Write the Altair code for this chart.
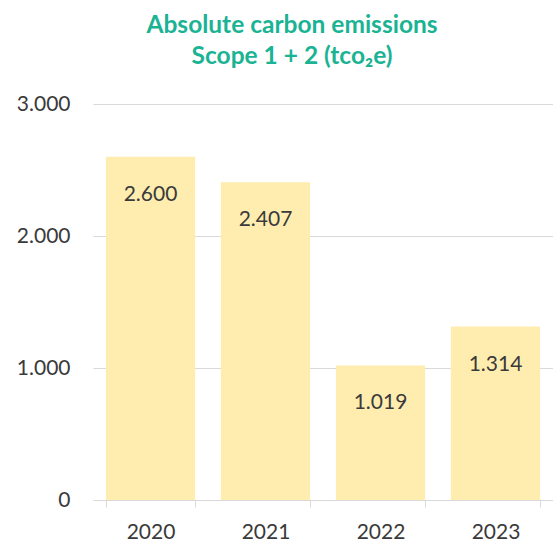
import altair as alt
import pandas as pd

years = ["2020", "2021", "2022", "2023"]
emissions = [2600, 2407, 1019, 1314]
y_ticks = [0, 1000, 2000, 3000]
title_lines = ["Absolute carbon emissions", "Scope 1 + 2 (tco\u2082e)"]

df = pd.DataFrame({"year": years, "value": emissions})

FONT = "Lato"
TXT = "#3A3A3A"
GRID = "#D9D9D9"
BAR = "#FFEDB0"
TEAL = "#1AB394"

x = alt.X(
    "year:N",
    sort=years,
    scale=alt.Scale(paddingInner=0.224, paddingOuter=0.112),
    axis=alt.Axis(
        title=None,
        labelAngle=0,
        tickBand="extent",
        domainColor=GRID,
        tickColor=GRID,
        tickSize=7,
        labelFont=FONT,
        labelFontSize=21,
        labelColor=TXT,
        labelPadding=14,
    ),
)
y = alt.Y(
    "value:Q",
    scale=alt.Scale(domain=[0, 3000], nice=False),
    axis=alt.Axis(
        title=None,
        values=y_ticks,
        domain=False,
        ticks=False,
        gridColor=GRID,
        labelFont=FONT,
        labelFontSize=21,
        labelColor=TXT,
        labelPadding=23,
        labelExpr="replace(format(datum.value, ','), ',', '.')",
    ),
)

bars = alt.Chart(df).mark_bar(color=BAR).encode(x=x, y=y)
labels = (
    alt.Chart(df)
    .transform_calculate(lbl="replace(format(datum.value, ','), ',', '.')")
    .mark_text(font=FONT, fontSize=21, color=TXT, baseline="middle", dy=38)
    .encode(x=alt.X("year:N", sort=years), y="value:Q", text="lbl:N")
)

chart = (
    alt.layer(bars, labels)
    .properties(
        width=460,
        height=396,
        padding={"left": 93, "top": 104, "right": 0, "bottom": 42},
        autosize=alt.AutoSizeParams(type="none"),
        title=alt.Title(
            text=title_lines,
            font=FONT,
            fontSize=24.5,
            fontWeight="bold",
            color=TEAL,
            lineHeight=31,
            anchor="middle",
            frame="group",
            baseline="bottom",
            offset=0,
            dx=-31,
        ),
    )
    .configure_view(stroke=None)
)

chart.save("out.html", embed_options={"renderer": "svg", "actions": False})
